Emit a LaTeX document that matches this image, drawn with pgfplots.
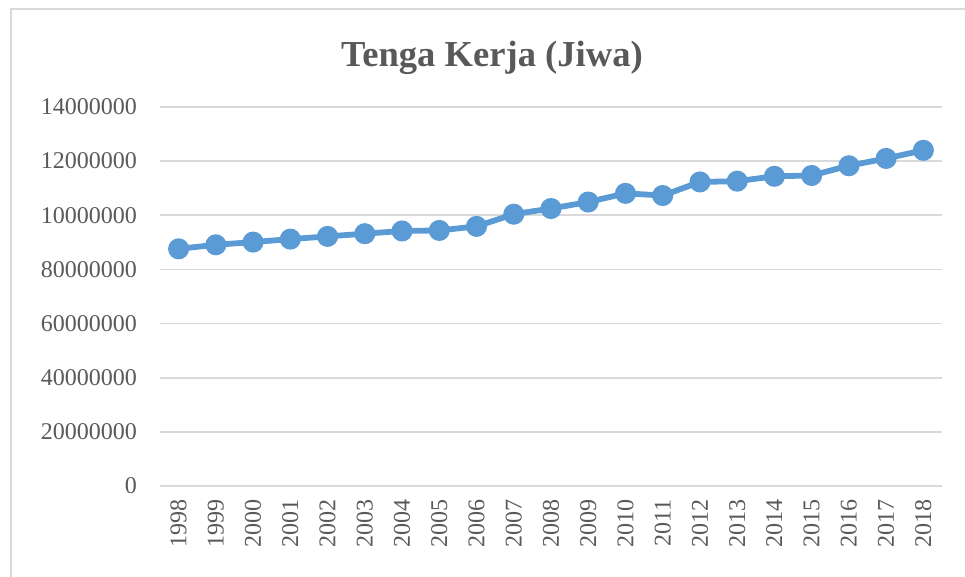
\documentclass[border=0pt]{standalone}
\usepackage{fontspec}
\setmainfont{Liberation Serif}
\usepackage{pgfplots}
\pgfplotsset{compat=1.18}
\definecolor{txtgray}{HTML}{595959}
\definecolor{gridgray}{HTML}{D9D9D9}
\definecolor{lineblue}{HTML}{5B9BD5}

\begin{document}
\begin{tikzpicture}
\path[use as bounding box] (0,0) rectangle (482.5pt,288.5pt);
% chart border (left and top edges only are visible)
\draw[gridgray, line width=1pt] (5.5pt,0) -- (5.5pt,284pt) -- (482.5pt,284pt);
\begin{axis}[
    at={(80pt,45.5pt)}, anchor=south west,
    scale only axis,
    width=391pt, height=189.5pt,
    xmin=1997.5, xmax=2018.5,
    ymin=0, ymax=140000000,
    xtick={1998,1999,...,2018},
    ytick={0,20000000,40000000,60000000,80000000,100000000,120000000,140000000},
    yticklabels={0,20000000,40000000,60000000,80000000,10000000,12000000,14000000},
    scaled y ticks=false,
    /pgf/number format/assume math mode=true,
    /pgf/number format/1000 sep={},
    axis line style={draw=none},
    major tick length=0pt,
    ymajorgrids,
    grid style={gridgray, line width=0.9pt},
    tick label style={font=\fontsize{12}{14}\selectfont, text=txtgray},
    xticklabel style={rotate=90, anchor=east, xshift=-3pt},
    yticklabel style={xshift=-8pt},
    title={Tenga Kerja (Jiwa)},
    title style={font=\fontsize{18.3}{20}\selectfont\bfseries, text=txtgray,
        at={(0.5,1)}, anchor=base, xshift=-29.5pt, yshift=14pt},
]
\addplot[lineblue, line width=2.9pt, mark=*, mark size=3.8pt,
    mark options={fill=lineblue, draw=none}] coordinates {
    (1998, 87600000) (1999, 89100000) (2000, 90100000) (2001, 91200000)
    (2002, 92200000) (2003, 93200000) (2004, 94200000) (2005, 94400000)
    (2006, 95900000) (2007, 100400000) (2008, 102500000) (2009, 104900000)
    (2010, 108100000) (2011, 107300000) (2012, 112300000) (2013, 112600000)
    (2014, 114400000) (2015, 114700000) (2016, 118300000) (2017, 121000000)
    (2018, 124000000)
};
\end{axis}
\end{tikzpicture}
\end{document}
